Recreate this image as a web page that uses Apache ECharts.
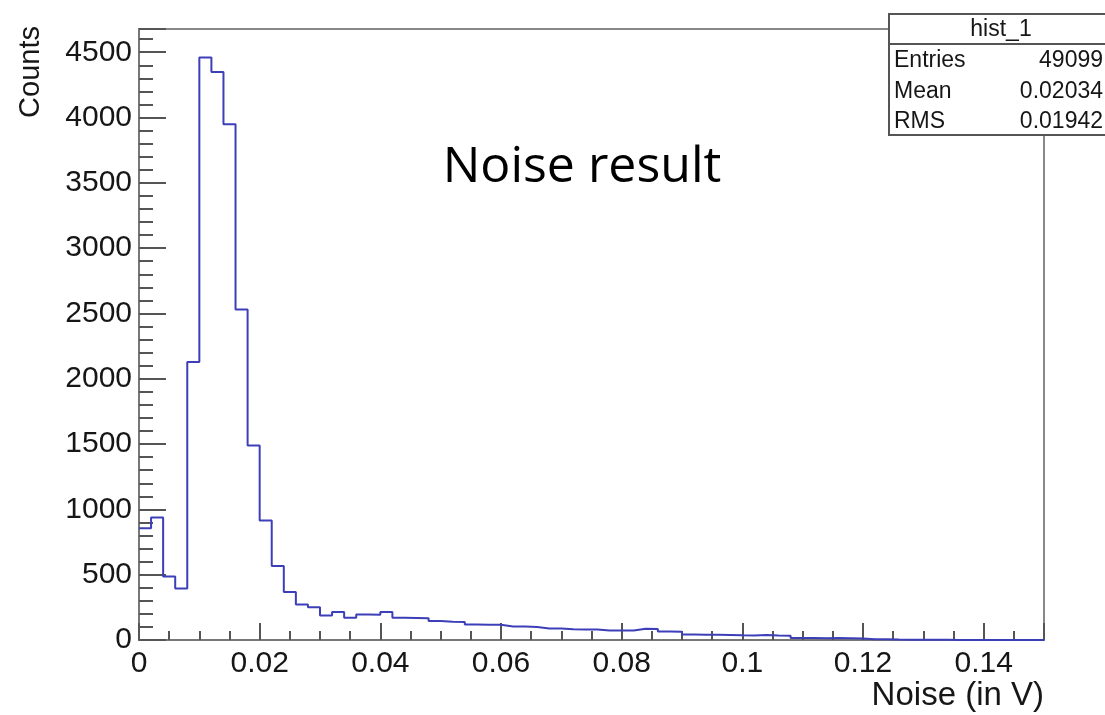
<!DOCTYPE html>
<html><head><meta charset="utf-8">
<script src="https://cdn.jsdelivr.net/npm/echarts@6/dist/echarts.min.js"></script>
<style>html,body{margin:0;padding:0;background:#fff}#c{width:1105px;height:715px}</style>
</head><body><div id="c"></div>
<script>
// ---- data ----
const binWidth = 0.002;
const binStart = 0;
const counts = [
  855, 938, 487, 395, 2128, 4459, 4349, 3948, 2531, 1490,
  915, 566, 367, 272, 250, 188, 214, 171, 196, 194,
  214, 170, 168, 166, 145, 140, 138, 118, 116, 117,
  104, 104, 100, 88, 88, 82, 80, 80, 73, 73,
  72, 86, 84, 66, 64, 42, 41, 40, 38, 36,
  35, 38, 34, 32, 16, 15, 14, 15, 14, 12,
  6, 5, 3, 2, 2, 1, 1, 0, 0, 0,
  0, 0, 0, 0, 0
];
const xMin = 0, xMax = 0.15, xInterval = 0.02;
const yMin = 0, yMax = 4678, yInterval = 500;
const chartTitle = 'Noise result';
const xTitle = 'Noise (in V)';
const yTitle = 'Counts';
const statsName = 'hist_1';
const statsLabels = ['Entries', 'Mean', 'RMS'];
const statsValues = ['49099', '0.02034', '0.01942'];

// ---- build step outline ----
const stepData = counts.map((c, i) => [binStart + i * binWidth, c]);
stepData.push([binStart + counts.length * binWidth, counts[counts.length - 1]]);

const chart = echarts.init(document.getElementById('c'), null, {renderer: 'canvas'});
const axisFont = 'Liberation Sans, Arial, Helvetica, sans-serif';
const txt = '#161616';

const statsGraphics = [];
statsGraphics.push({type: 'rect', shape: {x: 889, y: 14, width: 230, height: 121},
  style: {fill: '#fff', stroke: '#555', lineWidth: 2}, z: 100});
statsGraphics.push({type: 'line', shape: {x1: 889, y1: 44, x2: 1110, y2: 44},
  style: {stroke: '#555', lineWidth: 2}, z: 101});
statsGraphics.push({type: 'text', x: 1001, y: 30, z: 102,
  style: {text: statsName, font: '23px ' + axisFont, fill: txt, align: 'center', verticalAlign: 'middle'}});
statsLabels.forEach((lab, k) => {
  const yy = 61 + k * 30.5;
  statsGraphics.push({type: 'text', x: 894, y: yy, z: 102,
    style: {text: lab, font: '23px ' + axisFont, fill: txt, align: 'left', verticalAlign: 'middle'}});
  statsGraphics.push({type: 'text', x: 1103, y: yy, z: 102,
    style: {text: statsValues[k], font: '23px ' + axisFont, fill: txt, align: 'right', verticalAlign: 'middle'}});
});

chart.setOption({
  animation: false,
  backgroundColor: '#fff',
  grid: {left: 139, right: 61, top: 29, bottom: 75, show: true, borderColor: '#888', borderWidth: 2, backgroundColor: 'transparent'},
  xAxis: {
    type: 'value', min: xMin, max: xMax, interval: xInterval,
    axisLine: {show: true, onZero: false, lineStyle: {color: '#777', width: 2}},
    axisTick: {show: true, inside: true, length: 17, lineStyle: {color: '#555', width: 2}},
    minorTick: {show: true, splitNumber: 4, length: 9, lineStyle: {color: '#555', width: 2}},
    splitLine: {show: false},
    axisLabel: {show: true, showMaxLabel: false, margin: 9, color: txt, fontSize: 30, fontFamily: axisFont,
      formatter: v => String(+v.toFixed(3))}
  },
  yAxis: {
    type: 'value', min: yMin, max: yMax, interval: yInterval,
    axisLine: {show: true, onZero: false, lineStyle: {color: '#777', width: 2}},
    axisTick: {show: true, inside: true, length: 27, lineStyle: {color: '#555', width: 2}},
    minorTick: {show: true, splitNumber: 5, length: 14, lineStyle: {color: '#555', width: 2}},
    splitLine: {show: false},
    axisLabel: {show: true, showMaxLabel: false, margin: 7, color: txt, fontSize: 30, fontFamily: axisFont,
      formatter: v => String(Math.round(v))}
  },
  series: [{
    type: 'line', step: 'end', data: stepData, showSymbol: false, symbol: 'none',
    lineStyle: {color: '#3c3fb8', width: 2}, z: 3, clip: true
  }],
  graphic: [
    {type: 'text', x: 582, y: 168, z: 50,
      style: {text: chartTitle, font: '50px "Open Sans", "Noto Sans", sans-serif', fill: '#000', align: 'center', verticalAlign: 'middle'}},
    {type: 'text', x: 1044, y: 696, z: 50,
      style: {text: xTitle, font: '33px ' + axisFont, fill: txt, align: 'right', verticalAlign: 'middle'}},
    {type: 'text', x: 31, y: 26, rotation: Math.PI / 2, z: 50,
      style: {text: yTitle, font: '29px ' + axisFont, fill: txt, align: 'right', verticalAlign: 'middle'}}
  ].concat(statsGraphics)
});
</script>
</body></html>
